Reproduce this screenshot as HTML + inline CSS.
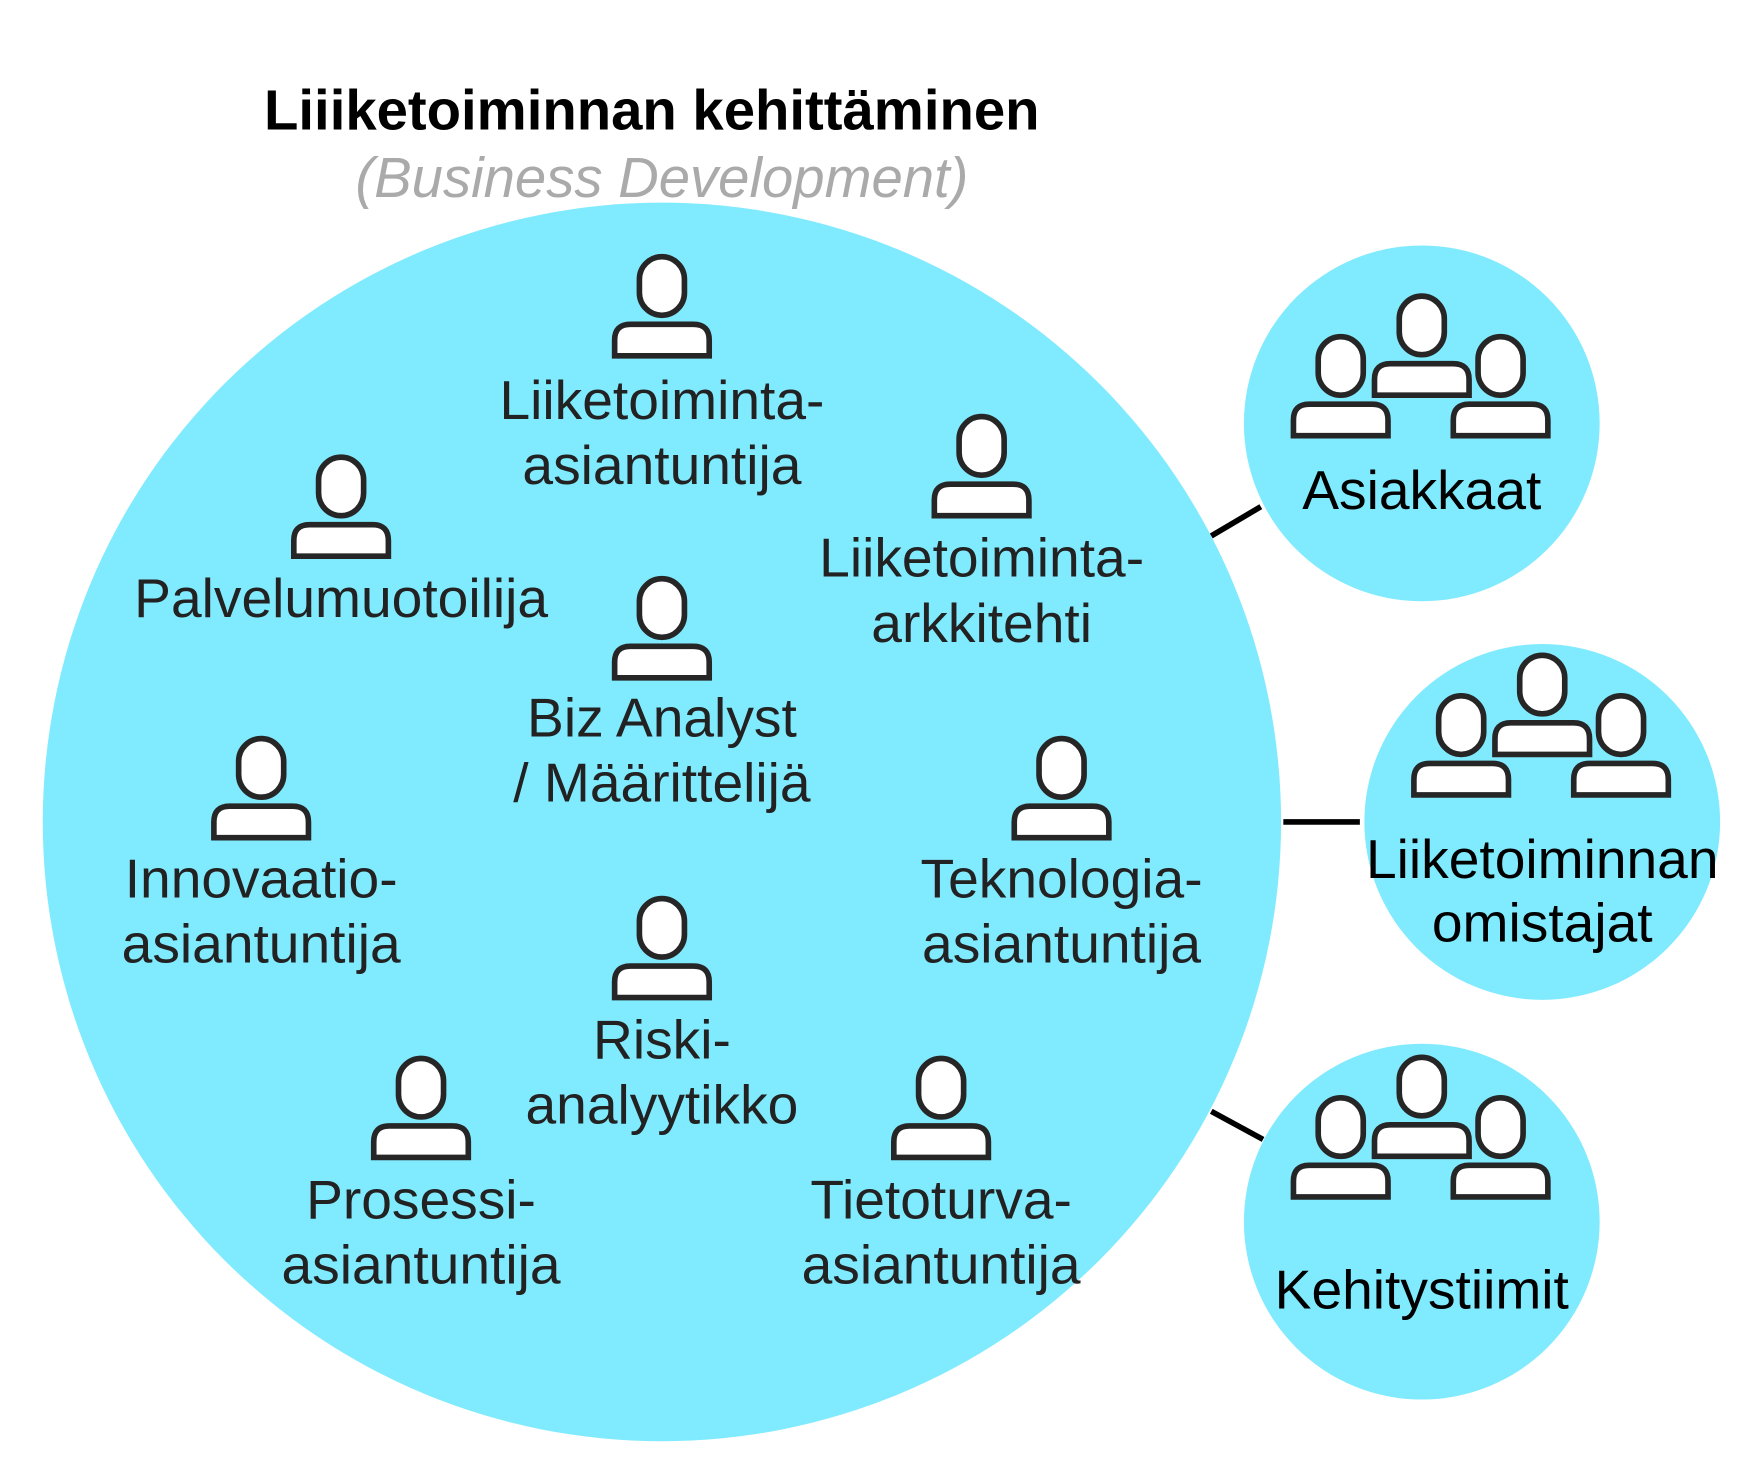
<!DOCTYPE html>
<html><head><meta charset="utf-8"><style>
html,body{margin:0;padding:0;background:#fff}
svg{display:block}
text{font-family:"Liberation Sans",Arial,sans-serif}
</style></head><body>
<svg width="1764" height="1484" viewBox="0 0 1567 1318" preserveAspectRatio="none" xmlns="http://www.w3.org/2000/svg">
<defs>
<g id="p" fill="#fff" stroke="#262626" stroke-width="5">
<rect x="-20" y="0" width="40" height="52" rx="20"/>
<path d="M-42,88 V74 Q-42,60 -28,60 H28 Q42,60 42,74 V88 Z"/>
</g>
<g id="g">
<use href="#p" x="-72" y="36"/>
<use href="#p" x="70" y="36"/>
<use href="#p" x="0" y="0"/>
</g>
</defs>
<rect width="1567" height="1318" fill="#fff"/>
<circle cx="588" cy="730" r="550" fill="#80eafe"/>
<circle cx="1263" cy="376" r="158" fill="#80eafe"/>
<circle cx="1370" cy="730" r="158" fill="#80eafe"/>
<circle cx="1263" cy="1085" r="158" fill="#80eafe"/>
<g stroke="#000" stroke-width="5">
<line x1="1076" y1="476" x2="1120" y2="450"/>
<line x1="1140" y1="730" x2="1208" y2="730"/>
<line x1="1076" y1="987" x2="1122" y2="1012"/>
</g>
<text x="579" y="115" text-anchor="middle" font-weight="bold" font-size="50" fill="#000">Liiiketoiminnan kehittäminen</text>
<text x="588" y="175" text-anchor="middle" font-style="italic" font-size="50" fill="#aaa">(Business Development)</text>
<use href="#p" x="588" y="228"/>
<use href="#p" x="303" y="406"/>
<use href="#p" x="872" y="370"/>
<use href="#p" x="588" y="514"/>
<use href="#p" x="232" y="656"/>
<use href="#p" x="943" y="656"/>
<use href="#p" x="588" y="798"/>
<use href="#p" x="374" y="940"/>
<use href="#p" x="836" y="940"/>
<g font-size="49" fill="#222" text-anchor="middle">
<text x="588" y="372">Liiketoiminta-</text><text x="588" y="430">asiantuntija</text>
<text x="303" y="548">Palvelumuotoilija</text>
<text x="872" y="512">Liiketoiminta-</text><text x="872" y="570">arkkitehti</text>
<text x="588" y="654">Biz Analyst</text><text x="588" y="712">/ Määrittelijä</text>
<text x="232" y="797">Innovaatio-</text><text x="232" y="855">asiantuntija</text>
<text x="943" y="797">Teknologia-</text><text x="943" y="855">asiantuntija</text>
<text x="588" y="940">Riski-</text><text x="588" y="998">analyytikko</text>
<text x="374" y="1082">Prosessi-</text><text x="374" y="1140">asiantuntija</text>
<text x="836" y="1082">Tietoturva-</text><text x="836" y="1140">asiantuntija</text>
</g>
<use href="#g" x="1263" y="263"/>
<use href="#g" x="1370" y="582"/>
<use href="#g" x="1263" y="939"/>
<g font-size="49" fill="#000" text-anchor="middle">
<text x="1263" y="452">Asiakkaat</text>
<text x="1370" y="780">Liiketoiminnan</text><text x="1370" y="836">omistajat</text>
<text x="1263" y="1162">Kehitystiimit</text>
</g>
</svg>
</body></html>
